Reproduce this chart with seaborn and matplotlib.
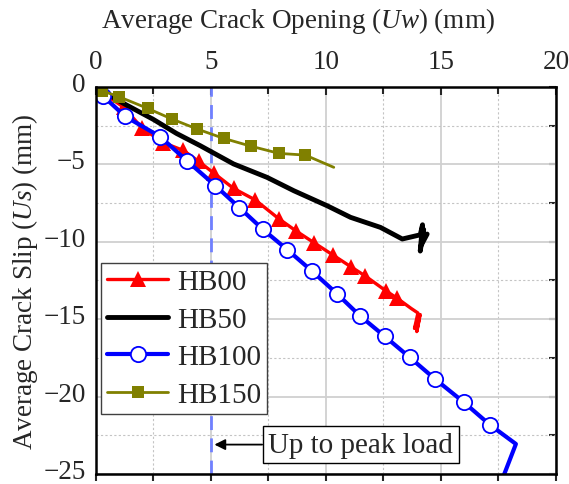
import matplotlib
matplotlib.use("Agg")
import matplotlib.pyplot as plt
import matplotlib.transforms as mtransforms
import seaborn as sns
import numpy as np

# data (crack opening Uw vs crack slip Us, mm)
hb00_x = [0, 0.3, 1.2, 2.0, 2.93, 3.8, 4.46, 5.11, 5.98, 6.93, 7.94, 8.7, 9.47, 10.3,
          11.07, 11.7, 12.59, 13.1, 13.7, 14.0, 13.85, 14.1, 13.95, 14.05, 13.9]
hb00_y = [0, -0.4, -1.3, -2.65, -3.6, -4.1, -4.8, -5.55, -6.55, -7.3, -8.5, -9.3, -10.05, -10.85,
          -11.6, -12.2, -13.15, -13.65, -14.3, -14.6, -15.6, -14.7, -15.8, -15.0, -15.4]
hb00_marks = list(range(1, 18))

hb50_x = [0, 0.5, 1.12, 2.5, 3.5, 4.53, 5.98, 7.44, 8.6, 10.05, 11.07, 12.37, 13.32,
          14.1, 14.2, 14.1, 14.25, 14.15, 14.4]
hb50_y = [0, -0.45, -1.0, -2.1, -3.0, -3.79, -4.97, -5.84, -6.7, -7.67, -8.42, -9.07, -9.82,
          -9.55, -8.9, -10.6, -9.2, -10.2, -9.5]

hb100_x = [0, 0.32, 1.26, 2.79, 3.95, 5.19, 6.24, 7.26, 8.31, 9.4, 10.49, 11.47, 12.55,
           13.64, 14.74, 16.0, 17.12, 18.26, 17.6]
hb100_y = [0, -0.6, -1.89, -3.21, -4.76, -6.37, -7.8, -9.2, -10.5, -11.9, -13.37, -14.77, -16.1,
           -17.46, -18.86, -20.37, -21.81, -23.06, -25.6]
hb100_marks = list(range(1, 17))

hb150_x = [0, 0.25, 1.0, 2.24, 3.3, 4.39, 5.55, 6.75, 7.96, 9.1, 10.34]
hb150_y = [0, -0.24, -0.63, -1.38, -2.07, -2.71, -3.32, -3.83, -4.29, -4.4, -5.19]
hb150_marks = list(range(1, 10))

peak_x = 5

sns.set_style("white")
plt.rcParams["font.family"] = ["Liberation Serif", "DejaVu Serif"]
plt.rcParams["mathtext.fontset"] = "custom"
plt.rcParams["mathtext.rm"] = "Liberation Serif"
plt.rcParams["mathtext.it"] = "Liberation Serif:italic"

fig = plt.figure(figsize=(5.69, 4.85), dpi=100)
ax = fig.add_axes([0.1687, 0.0206, 0.8083, 0.798])

# grid
ax.set_xticks(np.arange(0, 21, 5))
ax.set_xticks(np.arange(0, 21, 2.5), minor=True)
ax.set_yticks(np.arange(-25, 1, 5))
ax.set_yticks(np.arange(-25, 1, 2.5), minor=True)
ax.grid(True, which="major", color="#d0d0d0", lw=1.3)
ax.grid(True, which="minor", color="#c4c4c4", lw=0.8, ls=(0, (2, 2)))
ax.set_axisbelow(True)

ax.axvline(peak_x, color="#7080ff", lw=2, ls=(0, (5, 3)), zorder=1.5)

sns.lineplot(x=hb00_x, y=hb00_y, ax=ax, sort=False, estimator=None, color="red", lw=2.4,
             marker="^", markersize=12, markevery=hb00_marks, markeredgewidth=0,
             label="HB00")
sns.lineplot(x=hb50_x, y=hb50_y, ax=ax, sort=False, estimator=None, color="black", lw=3.5,
             label="HB50")
sns.lineplot(x=hb100_x, y=hb100_y, ax=ax, sort=False, estimator=None, color="blue", lw=3,
             marker="o", markersize=11, markevery=hb100_marks, markerfacecolor="white",
             markeredgecolor="blue", markeredgewidth=1.3, label="HB100")
sns.lineplot(x=hb150_x, y=hb150_y, ax=ax, sort=False, estimator=None, color="#808000", lw=2,
             marker="s", markersize=9, markevery=hb150_marks, markeredgewidth=0,
             label="HB150")

ax.set_xlim(0, 20)
ax.set_ylim(-25, 0)

# axes: labels on top / left
ax.xaxis.tick_top()
ax.xaxis.set_label_position("top")
ax.set_xlabel(r"Average Crack Opening ($\mathit{Uw}$) (mm)", fontsize=19.5)
ax.xaxis.set_label_coords(0.44, 1.135)
ax.xaxis.label.set_va("bottom")
ax.set_ylabel(r"Average Crack Slip ($\mathit{Us}$) (mm)", fontsize=19.5, labelpad=2)
ax.tick_params(axis="x", which="both", direction="in", labelsize=19.5, width=1.5, pad=9)
ax.tick_params(axis="x", which="major", length=6)
ax.tick_params(axis="x", which="minor", length=5)
ax.tick_params(axis="y", which="both", direction="inout", labelsize=19.5, width=1.5)
ax.tick_params(axis="y", which="major", length=8)
ax.tick_params(axis="y", which="minor", length=5)
for s in ax.spines.values():
    s.set_visible(True)
    s.set_linewidth(1.8)
    s.set_color("black")

# lift y tick labels a little, as in the original
lift = mtransforms.ScaledTranslation(0, 4 / 72, fig.dpi_scale_trans)
for lab in ax.get_yticklabels():
    lab.set_transform(lab.get_transform() + lift)

bx = ax.secondary_xaxis("bottom")
bx.set_xticks(np.arange(0, 21, 2.5))
bx.tick_params(direction="out", length=5, width=1.5, labelbottom=False)
ry = ax.secondary_yaxis("right")
ry.set_yticks(np.arange(-25, 1, 2.5))
ry.tick_params(direction="in", length=5, width=1.5, labelright=False)

leg = ax.legend(loc="upper left", bbox_to_anchor=(0.011, 0.545), borderaxespad=0,
                fontsize=21, labelspacing=0.38, handlelength=2.1, handletextpad=0.3,
                borderpad=0.2, fancybox=False, framealpha=1)
leg.get_frame().set_edgecolor("#404040")
leg.get_frame().set_linewidth(1)

ax.annotate("Up to peak load", xy=(5.15, -23.1), xytext=(7.5, -23.1), fontsize=21,
            va="center", ha="left",
            bbox=dict(boxstyle="square,pad=0.2", fc="white", ec="black", lw=1),
            arrowprops=dict(arrowstyle="-|>", color="black", lw=1.3, mutation_scale=16,
                            shrinkA=0, shrinkB=0))

fig.savefig("out.png", dpi=100)
